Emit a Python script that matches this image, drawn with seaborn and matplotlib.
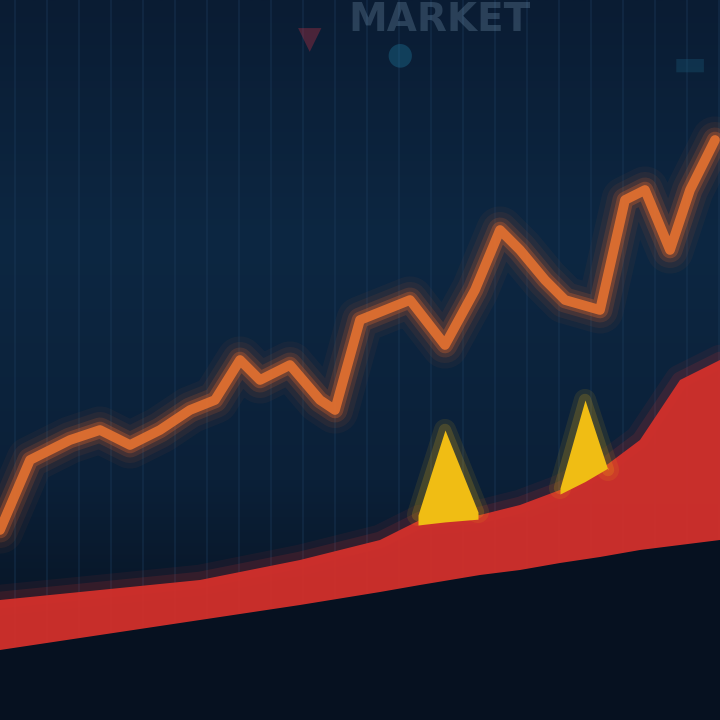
import numpy as np
import pandas as pd
import matplotlib
matplotlib.use("Agg")
import matplotlib.pyplot as plt
import seaborn as sns
from matplotlib.colors import LinearSegmentedColormap

# ---- data ----
price_t = [0, 30, 70, 100, 130, 160, 190, 215, 240, 260, 290, 320, 335, 360, 385,
           410, 445, 475, 500, 520, 545, 565, 600, 625, 645, 670, 690, 715]
price = [190, 260, 280, 290, 275, 290, 310, 320, 360, 340, 355, 320, 310, 400, 410,
         420, 375, 430, 490, 470, 440, 420, 410, 520, 530, 470, 530, 580]

vol_t = [0, 100, 200, 300, 380, 420, 480, 520, 560, 600, 640, 680, 720]
vol_top = [120, 130, 140, 160, 180, 200, 205, 215, 230, 250, 280, 340, 360]
vol_bottom = [70, 85, 100, 115, 128, 135, 145, 150, 157, 163, 170, 175, 180]

peak1_t = [418, 445, 478]
peak1_v = [205, 290, 208]
peak2_t = [560, 585, 608]
peak2_v = [232, 320, 250]

sns.set_theme(style="dark")
fig = plt.figure(figsize=(7.2, 7.2), dpi=100)
ax = fig.add_axes([0, 0, 1, 1])
ax.set_xlim(0, 720)
ax.set_ylim(0, 720)

# background gradient
grad = np.linspace(0, 1, 256).reshape(-1, 1)
bg = LinearSegmentedColormap.from_list("bg", ["#050d18", "#0b2038", "#0d2742", "#0a1c33"])
ax.imshow(grad, extent=[0, 720, 0, 720], origin="lower", cmap=bg, aspect="auto", zorder=0)

# faint vertical grid
for gx in np.arange(15, 720, 32):
    ax.axvline(gx, color="#1d3d5e", lw=1.2, alpha=0.4, zorder=1)

# bottom dark band
ax.fill_between(vol_t, 0, vol_bottom, color="#061120", zorder=2)

# red volume area with glow
for lw, a in [(22, 0.08), (12, 0.14)]:
    ax.plot(vol_t, vol_top, color="#e0322c", lw=lw, alpha=a, zorder=3)
ax.fill_between(vol_t, vol_bottom, vol_top, color="#d3302b", alpha=0.95, zorder=3, lw=0)

# yellow peaks with soft glow
for pt, pv in [(peak1_t, peak1_v), (peak2_t, peak2_v)]:
    for lw, a in [(16, 0.10), (9, 0.18)]:
        ax.plot(pt, pv, color="#f2b90f", lw=lw, alpha=a, solid_joinstyle="round", zorder=4)
    ax.fill_between(pt, np.interp(pt, vol_t, vol_top) - 4, pv, color="#f0bd14", zorder=4, lw=0)

# orange price line with glow
df = pd.DataFrame({"t": price_t, "price": price})
for lw, a in [(34, 0.05), (26, 0.08), (18, 0.16), (12, 0.3)]:
    ax.plot(price_t, price, color="#e4662a", lw=lw, alpha=a, solid_joinstyle="round",
            solid_capstyle="round", zorder=5)
sns.lineplot(data=df, x="t", y="price", ax=ax, color="#ea7430", lw=7, alpha=0.85, zorder=6)

# blurred header text
ax.text(440, 700, "MARKET", color="#9cc2dd", fontsize=28, ha="center", va="center",
        alpha=0.22, fontweight="bold", zorder=2)
ax.text(310, 680, "\u25bc", color="#c23245", fontsize=22, ha="center", va="center",
        alpha=0.35, zorder=2)
ax.text(400, 665, "\u25cf", color="#1f7da3", fontsize=22, ha="center", va="center",
        alpha=0.35, zorder=2)
ax.text(690, 655, "\u25ac", color="#1b5a78", fontsize=26, ha="center", va="center",
        alpha=0.35, zorder=2)

ax.set_xlabel("")
ax.set_ylabel("")
ax.set_xticks([])
ax.set_yticks([])
for s in ax.spines.values():
    s.set_visible(False)

fig.savefig("out.png", dpi=100)
